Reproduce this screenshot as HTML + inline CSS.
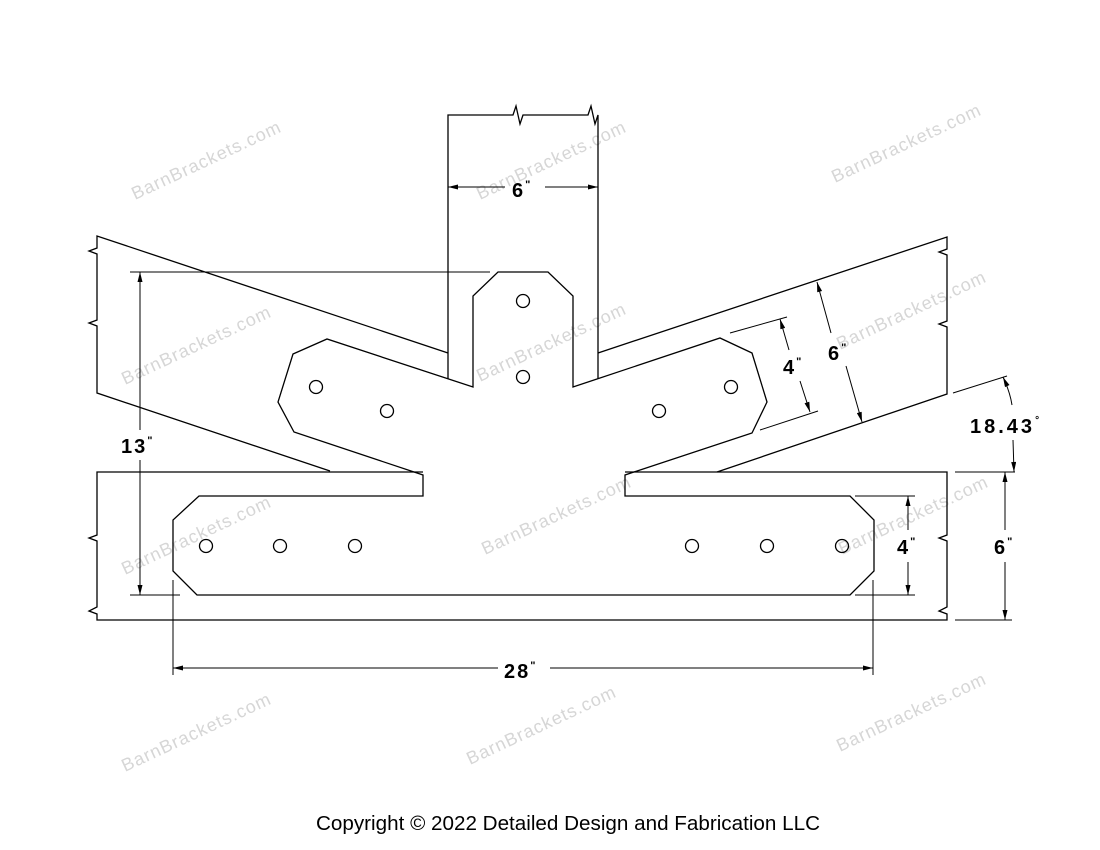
<!DOCTYPE html>
<html><head><meta charset="utf-8"><style>
html,body{margin:0;padding:0;background:#fff;}
svg{display:block;}
.l{stroke:#000;stroke-width:1.3;fill:none;}
.d{stroke:#000;stroke-width:1;fill:none;}
.t{font-family:"Liberation Sans",sans-serif;font-weight:bold;font-size:20px;fill:#000;letter-spacing:2px;}
.w{font-family:"Liberation Sans",sans-serif;font-size:18px;fill:#d6d6d6;letter-spacing:1px;}
</style></head><body>
<svg width="1100" height="850" viewBox="0 0 1100 850" xmlns="http://www.w3.org/2000/svg">
<defs>
<marker id="a" viewBox="0 0 12 6" refX="12" refY="3" markerWidth="12" markerHeight="5" orient="auto-start-reverse" markerUnits="userSpaceOnUse"><path d="M0,0 L12,3 L0,6 z" fill="#000"/></marker>
</defs>
<g class="w">
<text transform="translate(135,200) rotate(-25)">BarnBrackets.com</text>
<text transform="translate(480,200) rotate(-25)">BarnBrackets.com</text>
<text transform="translate(835,183) rotate(-25)">BarnBrackets.com</text>
<text transform="translate(125,385) rotate(-25)">BarnBrackets.com</text>
<text transform="translate(480,382) rotate(-25)">BarnBrackets.com</text>
<text transform="translate(840,350) rotate(-25)">BarnBrackets.com</text>
<text transform="translate(125,575) rotate(-25)">BarnBrackets.com</text>
<text transform="translate(485,555) rotate(-25)">BarnBrackets.com</text>
<text transform="translate(842,555) rotate(-25)">BarnBrackets.com</text>
<text transform="translate(125,772) rotate(-25)">BarnBrackets.com</text>
<text transform="translate(470,765) rotate(-25)">BarnBrackets.com</text>
<text transform="translate(840,752) rotate(-25)">BarnBrackets.com</text>
</g>
<path class="l" d="M448,379 L448,115 L513,115 L516,106 L520,124 L523,115 L588,115 L591,106 L595,124 L598,115 L598,379"/>
<path class="l" d="M448,353 L97,236 L97,248 L89,251 L97,254 L97,320 L89,323 L97,326 L97,393 L330,471"/>
<path class="l" d="M598,353 L947,237 L947,249 L939,252 L947,255 L947,321 L939,324 L947,327 L947,394 L717,472"/>
<path class="l" d="M423,472 L97,472 L97,535 L89,538 L97,541 L97,607 L89,611 L97,614 L97,620 L947,620 L947,614 L939,611 L947,607 L947,541 L939,538 L947,535 L947,472 L625,472"/>
<path class="l" d="M473,387 L473,296 L498,272 L548,272 L573,296 L573,387 L720,338 L752,353 L767,402 L752,433 L625,475 L625,496 L850,496 L874,520 L874,571 L850,595 L197,595 L173,571 L173,520 L199,496 L423,496 L423,475 L294,432 L278,402 L293,354 L327,339 Z"/>
<g class="l" stroke-width="1.1">
<circle cx="316" cy="387" r="6.5"/><circle cx="387" cy="411" r="6.5"/>
<circle cx="523" cy="301" r="6.5"/><circle cx="523" cy="377" r="6.5"/>
<circle cx="659" cy="411" r="6.5"/><circle cx="731" cy="387" r="6.5"/>
<circle cx="206" cy="546" r="6.5"/><circle cx="280" cy="546" r="6.5"/><circle cx="355" cy="546" r="6.5"/>
<circle cx="692" cy="546" r="6.5"/><circle cx="767" cy="546" r="6.5"/><circle cx="842" cy="546" r="6.5"/>
</g>
<g class="d">
<line x1="448" y1="187" x2="505" y2="187" marker-start="url(#a)"/>
<line x1="545" y1="187" x2="598" y2="187" marker-end="url(#a)"/>
<line x1="130" y1="272" x2="490" y2="272"/>
<line x1="130" y1="595" x2="180" y2="595"/>
<line x1="140" y1="272" x2="140" y2="430" marker-start="url(#a)"/>
<line x1="140" y1="460" x2="140" y2="595" marker-end="url(#a)"/>
<line x1="173" y1="580" x2="173" y2="675"/>
<line x1="873" y1="580" x2="873" y2="675"/>
<line x1="173" y1="668" x2="498" y2="668" marker-start="url(#a)"/>
<line x1="550" y1="668" x2="873" y2="668" marker-end="url(#a)"/>
<line x1="855" y1="496" x2="915" y2="496"/>
<line x1="855" y1="595" x2="915" y2="595"/>
<line x1="908" y1="496" x2="908" y2="530" marker-start="url(#a)"/>
<line x1="908" y1="562" x2="908" y2="595" marker-end="url(#a)"/>
<line x1="955" y1="472" x2="1015" y2="472"/>
<line x1="955" y1="620" x2="1012" y2="620"/>
<line x1="1005" y1="472" x2="1005" y2="530" marker-start="url(#a)"/>
<line x1="1005" y1="562" x2="1005" y2="620" marker-end="url(#a)"/>
<line x1="953" y1="393" x2="1007" y2="376"/>
<path d="M1003,377 Q1010,392 1012,405" marker-start="url(#a)"/>
<path d="M1013,440 L1014,472" marker-end="url(#a)"/>
<line x1="730" y1="333" x2="787" y2="317"/>
<line x1="760" y1="430" x2="818" y2="411"/>
<line x1="780" y1="319" x2="789" y2="350" marker-start="url(#a)"/>
<line x1="800" y1="381" x2="810" y2="412" marker-end="url(#a)"/>
<line x1="817" y1="282" x2="831" y2="333" marker-start="url(#a)"/>
<line x1="846" y1="366" x2="862" y2="422" marker-end="url(#a)"/>
</g>
<g class="t">
<text x="512" y="197">6<tspan font-size="11" dy="-9">"</tspan></text>
<text x="121" y="453">13<tspan font-size="11" dy="-9">"</tspan></text>
<text x="504" y="678">28<tspan font-size="11" dy="-9">"</tspan></text>
<text x="897" y="554">4<tspan font-size="11" dy="-9">"</tspan></text>
<text x="994" y="554">6<tspan font-size="11" dy="-9">"</tspan></text>
<text x="783" y="374">4<tspan font-size="11" dy="-9">"</tspan></text>
<text x="828" y="360">6<tspan font-size="11" dy="-9">"</tspan></text>
<text x="970" y="433" letter-spacing="3">18.43<tspan font-size="10" dy="-10">°</tspan></text>
</g>
<text x="316" y="830" font-family="Liberation Sans,sans-serif" font-size="20" textLength="504" lengthAdjust="spacingAndGlyphs" fill="#000">Copyright © 2022 Detailed Design and Fabrication LLC</text>
</svg>
</body></html>
